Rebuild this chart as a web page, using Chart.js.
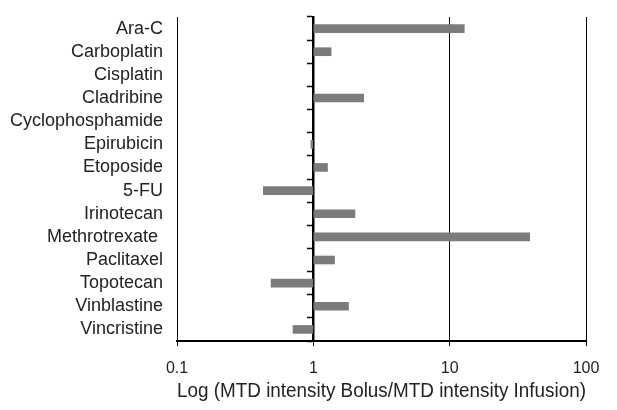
<!DOCTYPE html>
<html>
<head>
<meta charset="utf-8">
<script src="https://cdn.jsdelivr.net/npm/chart.js@4"></script>
<style>
  html, body { margin: 0; padding: 0; background: #fff; }
  #wrap { width: 617px; height: 410px; }
</style>
</head>
<body>
<div id="wrap"><canvas id="myChart"></canvas></div>
<script>
var drugs = ['Ara-C', 'Carboplatin', 'Cisplatin', 'Cladribine', 'Cyclophosphamide', 'Epirubicin',
  'Etoposide', '5-FU', 'Irinotecan', 'Methrotrexate ', 'Paclitaxel', 'Topotecan', 'Vinblastine', 'Vincristine'];
// ratio of MTD intensity bolus / infusion (no bar drawn for Cisplatin, Cyclophosphamide)
var ratio = [12.8, 1.35, null, 2.34, null, 0.96, 1.27, 0.43, 2.02, 38.6, 1.43, 0.49, 1.81, 0.71];
var xTickValues = [0.1, 1, 10, 100];
var xTickLabels = ['0.1', '1', '10', '100'];

var font = 'Liberation Sans, Arial, Helvetica, sans-serif';

var ctx = document.getElementById('myChart').getContext('2d');
var chart = new Chart(ctx, {
  type: 'bar',
  data: {
    labels: drugs,
    datasets: [{
      data: ratio,
      base: 1,
      backgroundColor: '#7b7b7b',
      borderWidth: 0,
      barThickness: 8
    }]
  },
  options: {
    indexAxis: 'y',
    responsive: true,
    maintainAspectRatio: false,
    animation: false,
    layout: {
      padding: { left: 0, right: 31, top: 17, bottom: 0 }
    },
    plugins: {
      legend: { display: false },
      tooltip: { enabled: false }
    },
    scales: {
      x: {
        type: 'logarithmic',
        min: 0.1,
        max: 100,
        afterBuildTicks: function (s) {
          s.ticks = xTickValues.map(function (v) { return { value: v }; });
        },
        afterFit: function (s) { s.height = 69; },
        ticks: {
          autoSkip: false,
          maxRotation: 0,
          padding: 13,
          color: '#222',
          font: { family: font, size: 16 },
          callback: function (v) {
            var i = xTickValues.indexOf(v);
            return i < 0 ? '' : xTickLabels[i];
          }
        },
        grid: { color: '#000', lineWidth: 1, tickLength: 5, tickColor: '#000' },
        border: { color: '#000', width: 2 },
        title: {
          display: true,
          text: 'Log (MTD intensity Bolus/MTD intensity Infusion)',
          color: '#222',
          font: { family: font, size: 20 },
          padding: { top: 4, bottom: 7 }
        }
      },
      y: {
        afterFit: function (s) {
          s.width = 177;
          s.paddingTop = 0;
          s.paddingBottom = 0;
        },
        ticks: {
          autoSkip: false,
          padding: 14,
          color: '#222',
          font: { family: font, size: 18 }
        },
        grid: { display: false, drawTicks: false },
        border: { display: false }
      },
      y2: {
        type: 'category',
        axis: 'y',
        position: { x: 1 },
        offset: true,
        z: 1,
        ticks: { display: false },
        grid: { offset: true, drawOnChartArea: false, tickLength: 5, tickWidth: 1.5, tickColor: '#000' },
        border: { color: '#000', width: 2.5 }
      }
    }
  }
});
</script>
</body>
</html>
